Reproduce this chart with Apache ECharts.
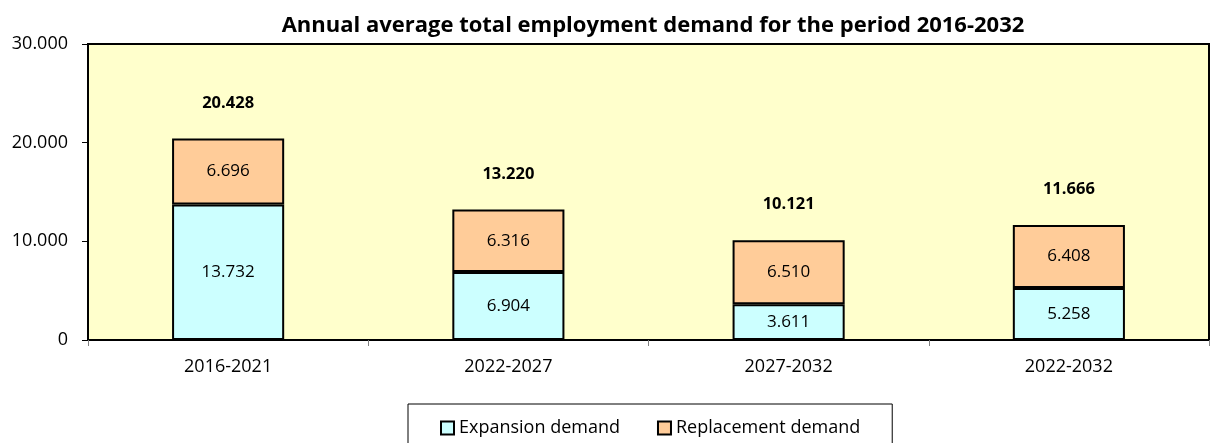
<!DOCTYPE html>
<html>
<head>
<meta charset="utf-8">
<script src="https://cdn.jsdelivr.net/npm/echarts@6/dist/echarts.min.js"></script>
<style>
html,body{margin:0;padding:0;background:#fff;}
#chart{width:1210px;height:443px;}
</style>
</head>
<body>
<div id="chart"></div>
<script>
const categories = ['2016-2021', '2022-2027', '2027-2032', '2022-2032'];
const expansionDemand = [13732, 6904, 3611, 5258];
const replacementDemand = [6696, 6316, 6510, 6408];
const totalDemand = [20428, 13220, 10121, 11666];
const yTicks = [0, 10000, 20000, 30000];

function fmt(v) {
  return String(Math.round(v)).replace(/\B(?=(\d{3})+(?!\d))/g, '.');
}

const FONT = '"Open Sans", sans-serif';
const chart = echarts.init(document.getElementById('chart'));
chart.setOption({
  animation: false,
  title: {
    text: 'Annual average total employment demand for the period 2016-2032',
    left: 648, textAlign: 'center', top: 10,
    textStyle: { fontFamily: FONT, fontSize: 22, fontWeight: 'bold', color: '#000' }
  },
  legend: {
    data: ['Expansion demand', 'Replacement demand'],
    left: 408, top: 404,
    padding: [15, 32, 20, 32],
    borderColor: '#000', borderWidth: 1,
    itemWidth: 13, itemHeight: 13, itemGap: 37,
    icon: 'rect',
    textStyle: { fontFamily: FONT, fontSize: 18, color: '#000' }
  },
  grid: {
    left: 88, right: 1, top: 44, bottom: 103,
    show: true, backgroundColor: '#FFFFCC', borderColor: '#000', borderWidth: 2
  },
  xAxis: {
    type: 'category', data: categories,
    axisLine: { lineStyle: { color: '#000', width: 2 } },
    axisTick: { show: true, length: 6, lineStyle: { color: '#808080', width: 1 } },
    axisLabel: { margin: 18, fontFamily: FONT, fontSize: 18, color: '#000' }
  },
  yAxis: {
    type: 'value', min: yTicks[0], max: yTicks[yTicks.length - 1], interval: 10000,
    axisLine: { show: true, lineStyle: { color: '#000', width: 2 } },
    axisTick: { show: true, length: 6, lineStyle: { color: '#000', width: 1 } },
    splitLine: { show: false },
    axisLabel: { margin: 20, fontFamily: FONT, fontSize: 18, color: '#000', formatter: v => fmt(v) }
  },
  series: [
    {
      name: 'Expansion demand', type: 'bar', stack: 'd', barWidth: '40%',
      data: expansionDemand,
      itemStyle: { color: '#CCFFFF', borderColor: '#000', borderWidth: 2 },
      label: { show: true, position: 'inside', fontFamily: FONT, fontSize: 17, color: '#000', formatter: p => fmt(p.value) }
    },
    {
      name: 'Replacement demand', type: 'bar', stack: 'd', barWidth: '40%',
      data: replacementDemand,
      itemStyle: { color: '#FFCC99', borderColor: '#000', borderWidth: 2 },
      label: { show: true, position: 'inside', fontFamily: FONT, fontSize: 17, color: '#000', formatter: p => fmt(p.value) }
    },
    {
      name: 'Total', type: 'bar', stack: 'd', barWidth: '40%',
      data: totalDemand.map(() => 0),
      itemStyle: { color: 'rgba(0,0,0,0)', borderWidth: 0 },
      label: { show: true, position: 'top', distance: 27, fontFamily: FONT, fontSize: 16.5, fontWeight: 'bold', color: '#000',
        formatter: p => fmt(totalDemand[p.dataIndex]) }
    }
  ]
});
</script>
</body>
</html>
